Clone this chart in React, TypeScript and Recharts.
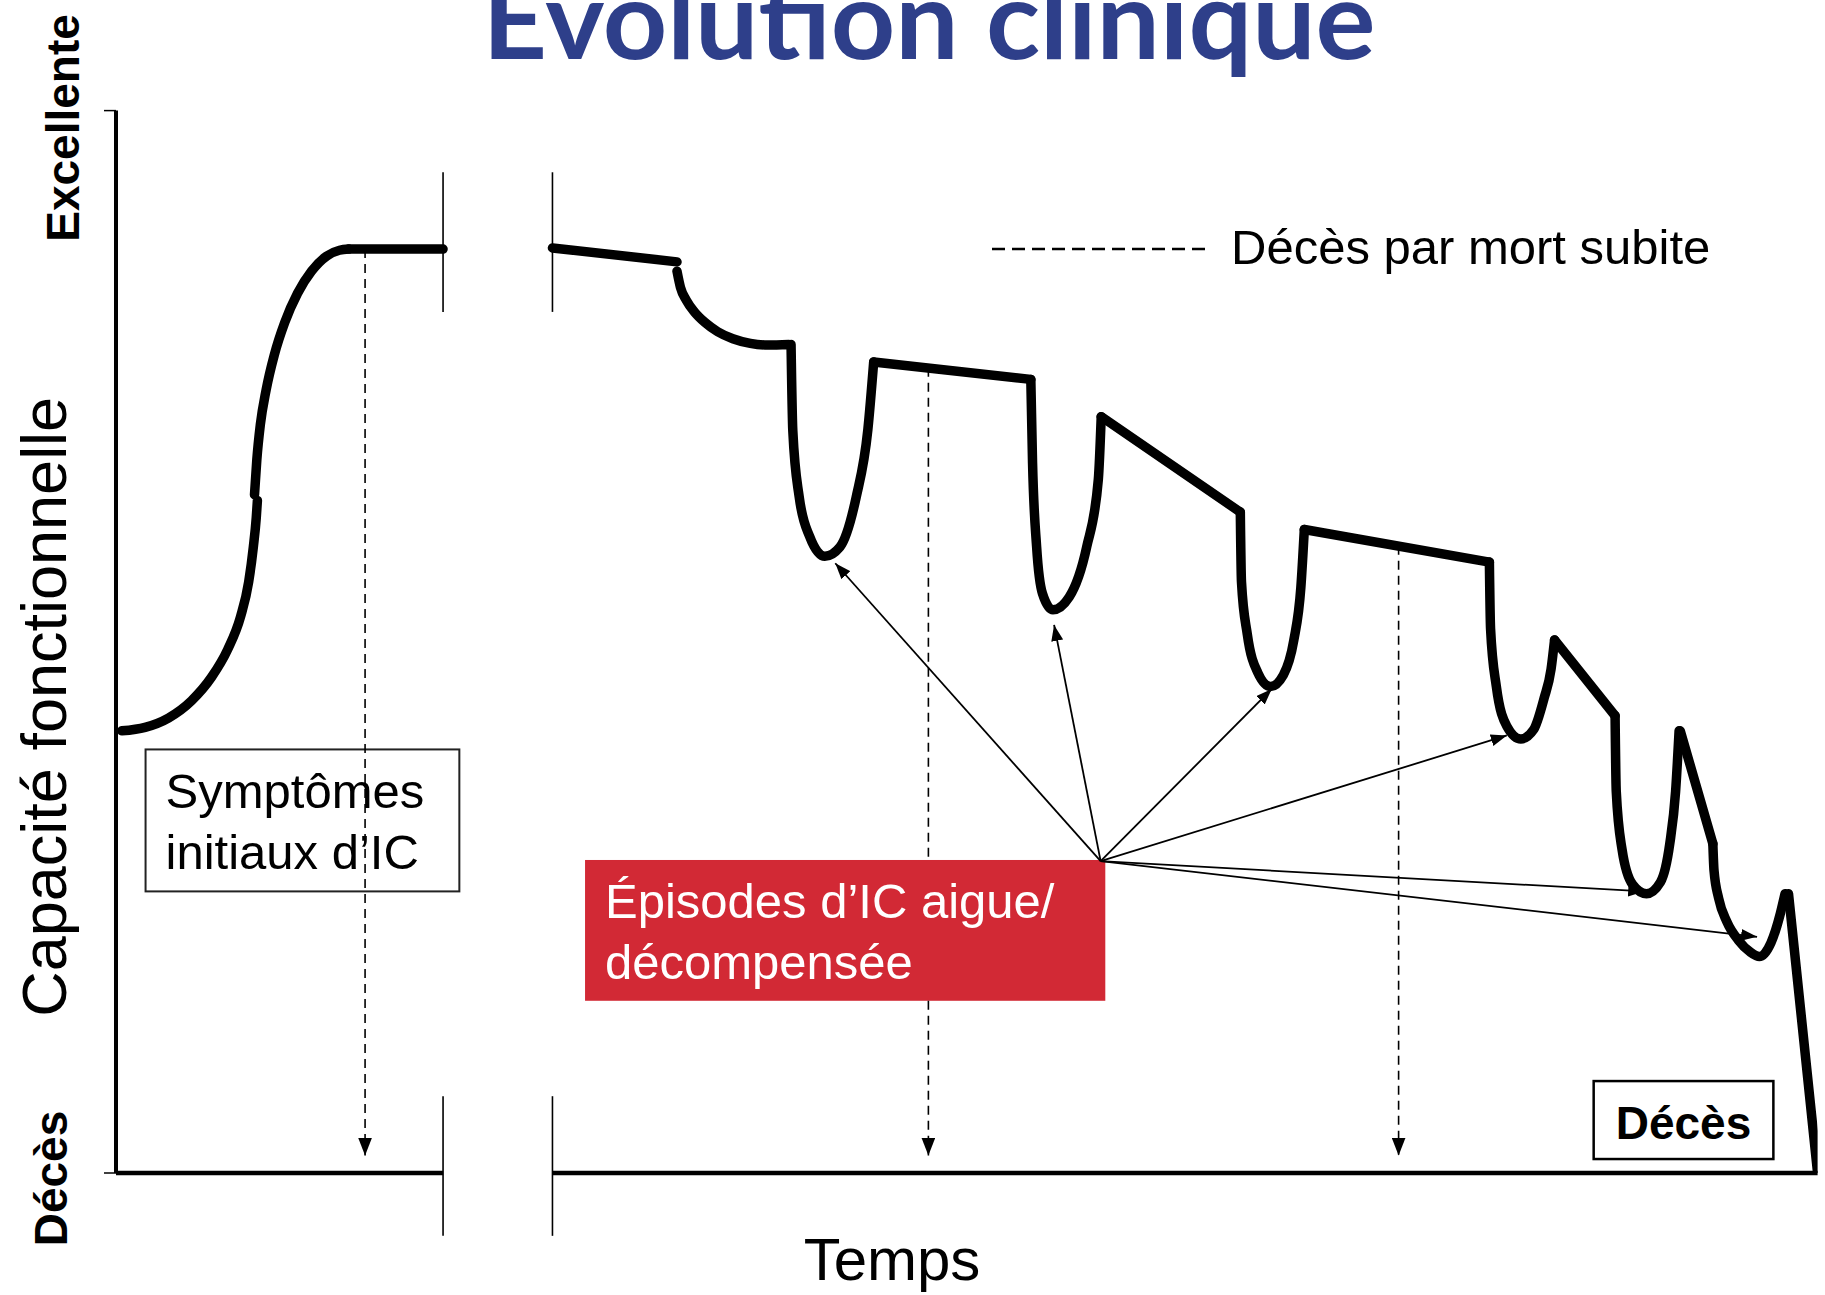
import React from "react";
import { ComposedChart, Line, XAxis, YAxis, ReferenceLine, ReferenceArea } from "recharts";

const W = 1825;
const H = 1295;
const FONT = '"Liberation Sans", Arial, Helvetica, sans-serif';

// functional capacity over time: [time, capacity]
const riseLow = [[0.5, 38.0], [2.5, 38.3], [4.5, 39.1], [6.5, 40.6], [8.2, 42.6], [9.6, 45.0], [10.7, 47.8], [11.4, 50.8], [11.8, 53.8], [12.05, 56.3], [12.15, 57.8]];
const riseHigh = [[11.9, 58.3], [12.1, 61.3], [12.4, 64.3], [12.9, 67.3], [13.6, 70.3], [14.5, 73.1], [15.6, 75.6], [16.8, 77.5], [18.1, 78.8], [19.2, 79.3], [20.0, 79.4]];
const plateau = [[20.0, 79.4], [28.1, 79.4]];
const afterBreak = [[37.5, 79.5], [48.2, 78.3]];
const firstDecline = [[48.2, 77.5], [48.5, 76.1], [49.0, 75.0], [49.7, 74.0], [50.6, 73.1], [51.7, 72.3], [53.0, 71.7], [54.5, 71.3], [56.0, 71.15], [57.8, 71.2]];
const episode1 = [[58.0, 71.2], [58.15, 63.8], [58.7, 58.1], [59.6, 54.7], [60.9, 53.0], [62.2, 53.8], [63.6, 58.1], [64.6, 63.9], [65.1, 69.7]];
const link1 = [[65.1, 69.7], [78.6, 68.2]];
const episode2 = [[78.6, 68.2], [78.75, 61.0], [79.1, 53.8], [79.6, 49.8], [80.5, 48.4], [81.9, 49.5], [83.4, 53.8], [84.4, 59.6], [84.65, 65.0]];
const link2 = [[84.65, 65.0], [96.6, 56.8]];
const episode3 = [[96.6, 56.8], [96.7, 50.8], [97.2, 46.3], [98.1, 43.0], [99.2, 41.8], [100.3, 42.8], [101.2, 45.8], [101.8, 50.3], [102.1, 55.3]];
const link3 = [[102.1, 55.3], [118.0, 52.5]];
const episode4 = [[118.0, 52.5], [118.1, 46.8], [118.6, 41.8], [119.5, 38.4], [120.7, 37.3], [121.8, 38.1], [122.7, 40.8], [123.3, 43.3], [123.6, 45.8]];
const link4 = [[123.6, 45.8], [128.8, 39.3]];
const episode5 = [[128.8, 39.3], [128.9, 32.8], [129.4, 27.8], [130.3, 24.8], [131.5, 24.0], [132.7, 25.0], [133.5, 28.3], [134.0, 32.8], [134.3, 38.0]];
const link5 = [[134.4, 38.0], [137.2, 28.3]];
const episode6 = [[137.2, 28.3], [137.3, 26.0], [137.7, 23.6], [138.4, 21.6], [139.4, 20.0], [140.4, 19.0], [141.2, 18.6], [142.2, 19.8], [143.0, 22.3], [143.4, 24.0]];
const finalFall = [[143.7, 24.0], [146.2, 0]];

// sudden death arrows: time and starting capacity
const suddenDeaths = [[21.4, 79.4], [69.8, 69.2], [110.2, 53.9]];
const suddenDeathTip = 1.5;

// acute episodes: arrows from the label to each trough
const episodeSource = [84.6, 26.8];
const episodeTroughs = [[61.8, 52.4], [80.6, 47.1], [99.3, 41.6], [119.5, 37.6], [131.3, 24.2], [141.0, 20.3]];

// axis break
const breakTimes = [28.1, 37.5];
const breakTop = [74.0, 86.0];
const breakBottom = [-5.4, 6.6];

const symptomBox = { t1: 2.54, t2: 29.5, c1: 24.2, c2: 36.4 };
const episodeBox = { t1: 40.3, t2: 85.0, c1: 14.8, c2: 26.9 };
const deathBox = { t1: 126.96, t2: 142.4, c1: 1.2, c2: 7.9 };

const joinSegments = (segments: number[][][]) => {
  const rows: { t: number; c: number | null }[] = [];
  segments.forEach((seg, i) => {
    if (i > 0) rows.push({ t: seg[0][0], c: null });
    seg.forEach(([t, c]) => rows.push({ t, c }));
  });
  return rows;
};

const curved = joinSegments([riseLow, riseHigh, firstDecline, episode1, episode2, episode3, episode4, episode5, episode6]);
const straight = joinSegments([plateau, afterBreak, link1, link2, link3, link4, link5, finalFall]);

// the red label hides the dashed arrow that runs behind it
const dashedPieces = (t: number, c: number) => {
  if (t > episodeBox.t1 && t < episodeBox.t2) {
    return [
      { from: c, to: episodeBox.c2, head: false },
      { from: episodeBox.c1, to: suddenDeathTip, head: true },
    ];
  }
  return [{ from: c, to: suddenDeathTip, head: true }];
};

const LevelTick = (props: any) => {
  const { y, payload } = props;
  const top = payload.value > 50;
  const x = top ? 79 : 67;
  const yy = top ? y + 17.4 : y + 5.5;
  return (
    <text
      transform={`translate(${x},${yy}) rotate(-90)`}
      textAnchor="middle"
      fontFamily={FONT}
      fontWeight={700}
      fontSize={46}
      fill="#000"
    >
      {top ? "Excellente" : "Décès"}
    </text>
  );
};

const CapacityLabel = (props: any) => {
  const vb = props.viewBox;
  return (
    <text
      transform={`translate(66,${vb.y + vb.height / 2 + 65}) rotate(-90)`}
      textAnchor="middle"
      fontFamily={FONT}
      fontSize={63}
      fill="#000"
    >
      Capacité fonctionnelle
    </text>
  );
};

const TimeLabel = (props: any) => {
  const vb = props.viewBox;
  return (
    <text x={vb.x + 776} y={vb.y + 107} textAnchor="middle" fontFamily={FONT} fontSize={60} fill="#000">
      Temps
    </text>
  );
};

const SymptomShape = (p: any) => (
  <g>
    <rect x={p.x} y={p.y} width={p.width} height={p.height} fill="none" stroke="#222" strokeWidth={2} />
    <text x={p.x + 20} y={p.y + 59} fontFamily={FONT} fontSize={49} fill="#000">Symptômes</text>
    <text x={p.x + 20} y={p.y + 120} fontFamily={FONT} fontSize={49} fill="#000">initiaux d’IC</text>
  </g>
);

const EpisodeShape = (p: any) => (
  <g>
    <rect x={p.x} y={p.y} width={p.width} height={p.height} fill="#D22935" />
    <text x={p.x + 20} y={p.y + 58} fontFamily={FONT} fontSize={49} fill="#fff">Épisodes d’IC aigue/</text>
    <text x={p.x + 20} y={p.y + 119} fontFamily={FONT} fontSize={49} fill="#fff">décompensée</text>
  </g>
);

const DeathShape = (p: any) => (
  <g>
    <rect x={p.x} y={p.y} width={p.width} height={p.height} fill="#fff" stroke="#000" strokeWidth={2.5} />
    <text x={p.x + p.width / 2} y={p.y + 58} textAnchor="middle" fontFamily={FONT} fontWeight={700} fontSize={46} fill="#000">Décès</text>
  </g>
);

export default function App() {
  return (
    <div style={{ position: "absolute", left: 0, top: 0, width: W, height: H, background: "#fff" }}>
      <ComposedChart width={W} height={H} margin={{ top: 110.6, right: 7.4, bottom: 0, left: 0 }}>
        <defs>
          <marker id="tipThin" viewBox="0 0 16 12" refX="16" refY="6" markerWidth="16" markerHeight="12" markerUnits="userSpaceOnUse" orient="auto">
            <path d="M0,0 L16,6 L0,12 z" fill="#000" />
          </marker>
          <marker id="tipDash" viewBox="0 0 18 14" refX="18" refY="7" markerWidth="18" markerHeight="14" markerUnits="userSpaceOnUse" orient="auto">
            <path d="M0,0 L18,7 L0,14 z" fill="#000" />
          </marker>
        </defs>

        <text x={929} y={59} textAnchor="middle" fontFamily="Lato, 'Open Sans', sans-serif" fontWeight={700} fontSize={110} fill="#2E3F8A" textLength={893} lengthAdjust="spacingAndGlyphs">
          Evolution clinique
        </text>

        <XAxis type="number" dataKey="t" domain={[0, 146.2]} height={122} axisLine={false} tickLine={false} tick={false} allowDataOverflow label={{ content: TimeLabel }} />
        <YAxis
          type="number"
          domain={[0, 91.3]}
          ticks={[0, 91.3]}
          interval={0}
          width={116}
          allowDataOverflow
          axisLine={{ stroke: "#000", strokeWidth: 4 }}
          tickLine={{ stroke: "#000", strokeWidth: 1.5 }}
          tickSize={12}
          tick={(p: any) => <LevelTick {...p} />}
          label={{ content: CapacityLabel }}
        />

        {/* time axis with its break */}
        <ReferenceLine segment={[{ x: 0, y: 0 }, { x: breakTimes[0], y: 0 }]} stroke="#000" strokeWidth={4.5} ifOverflow="visible" />
        <ReferenceLine segment={[{ x: breakTimes[1], y: 0 }, { x: 146.2, y: 0 }]} stroke="#000" strokeWidth={4.5} ifOverflow="visible" />
        {breakTimes.map((t) => (
          <React.Fragment key={t}>
            <ReferenceLine segment={[{ x: t, y: breakTop[0] }, { x: t, y: breakTop[1] }]} stroke="#000" strokeWidth={1.6} ifOverflow="visible" />
            <ReferenceLine segment={[{ x: t, y: breakBottom[0] }, { x: t, y: breakBottom[1] }]} stroke="#000" strokeWidth={1.6} ifOverflow="visible" />
          </React.Fragment>
        ))}

        <ReferenceArea x1={symptomBox.t1} x2={symptomBox.t2} y1={symptomBox.c1} y2={symptomBox.c2} shape={SymptomShape} />

        {suddenDeaths.map(([t, c]) =>
          dashedPieces(t, c).map((piece, i) => (
            <ReferenceLine
              key={`${t}-${i}`}
              segment={[{ x: t, y: piece.from }, { x: t, y: piece.to }]}
              stroke="#000"
              strokeWidth={1.6}
              strokeDasharray="9 6"
              markerEnd={piece.head ? "url(#tipDash)" : undefined}
              ifOverflow="visible"
            />
          ))
        )}

        <ReferenceArea x1={episodeBox.t1} x2={episodeBox.t2} y1={episodeBox.c1} y2={episodeBox.c2} shape={EpisodeShape} />
        <ReferenceArea x1={deathBox.t1} x2={deathBox.t2} y1={deathBox.c1} y2={deathBox.c2} shape={DeathShape} />

        {episodeTroughs.map(([t, c]) => (
          <ReferenceLine
            key={t}
            segment={[{ x: episodeSource[0], y: episodeSource[1] }, { x: t, y: c }]}
            stroke="#000"
            strokeWidth={1.8}
            markerEnd="url(#tipThin)"
            ifOverflow="visible"
          />
        ))}

        <Line data={curved} dataKey="c" type="monotone" stroke="#000" strokeWidth={9.5} strokeLinecap="round" strokeLinejoin="round" dot={false} activeDot={false} isAnimationActive={false} />
        <Line data={straight} dataKey="c" type="linear" stroke="#000" strokeWidth={9.5} strokeLinecap="round" strokeLinejoin="round" dot={false} activeDot={false} isAnimationActive={false} />

        {/* key for the dashed arrows */}
        <g>
          <line x1={992} y1={249} x2={1210} y2={249} stroke="#000" strokeWidth={2.5} strokeDasharray="13 7" />
          <text x={1231} y={264} fontFamily={FONT} fontSize={49} fill="#000">Décès par mort subite</text>
        </g>
      </ComposedChart>
    </div>
  );
}
